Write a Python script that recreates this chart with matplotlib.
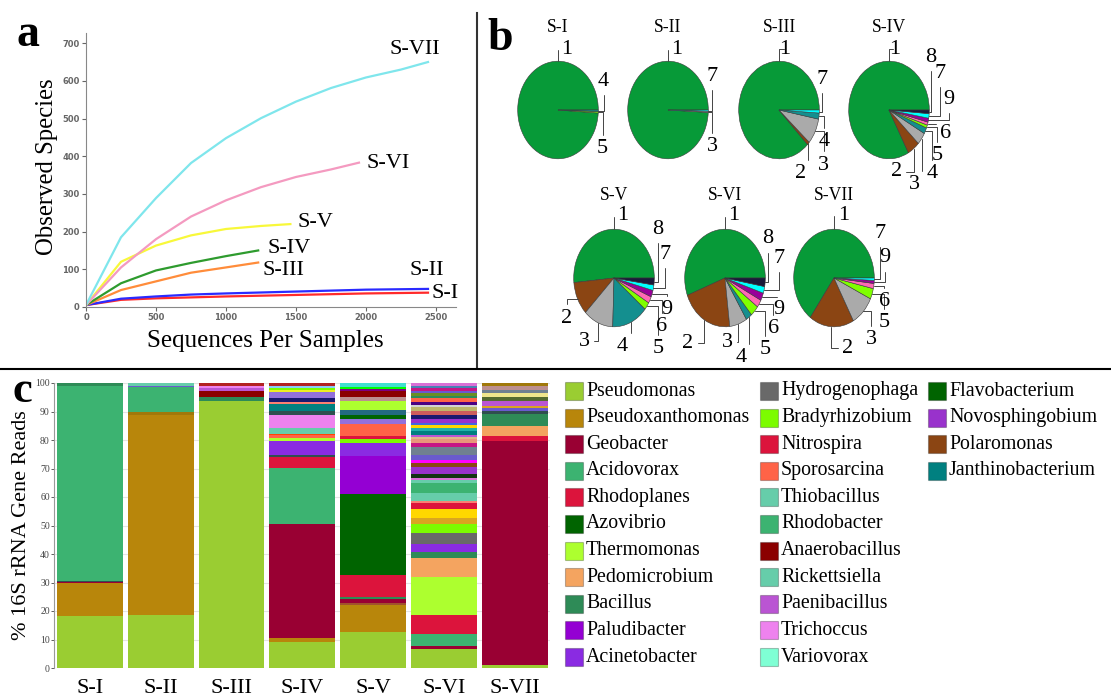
import numpy as np
import matplotlib
matplotlib.use("Agg")
import matplotlib.pyplot as plt
from matplotlib.patches import Rectangle
from matplotlib.lines import Line2D

plt.rcParams['font.family'] = ['Liberation Serif', 'DejaVu Serif']

W, H = 1111, 696


def box(x0, y0, x1, y1):
    # pixel box (top-left origin) -> figure rect
    return [x0 / W, 1 - y1 / H, (x1 - x0) / W, (y1 - y0) / H]


# ---------------- panel a : rarefaction curves ----------------
curve_names = ["S-I", "S-II", "S-III", "S-IV", "S-V", "S-VI", "S-VII"]
depth_s1 = [0, 250, 500, 1000, 1500, 2000, 2443]
obs_s1 = [5, 19, 23, 28, 32, 36, 38]
depth_s2 = [0, 250, 500, 750, 1000, 1500, 2000, 2443]
obs_s2 = [5, 22, 28, 33, 36, 41, 46, 48]
depth_s3 = [0, 250, 500, 750, 1000, 1230]
obs_s3 = [5, 45, 68, 91, 105, 118]
depth_s4 = [0, 250, 500, 750, 1000, 1230]
obs_s4 = [5, 63, 97, 117, 135, 150]
depth_s5 = [0, 250, 500, 750, 1000, 1250, 1460]
obs_s5 = [5, 120, 163, 190, 207, 215, 220]
depth_s6 = [0, 250, 500, 750, 1000, 1250, 1500, 1750, 1950]
obs_s6 = [5, 105, 180, 240, 283, 318, 345, 365, 383]
depth_s7 = [0, 125, 250, 500, 750, 1000, 1250, 1500, 1750, 2000, 2250, 2443]
obs_s7 = [5, 95, 185, 289, 382, 448, 501, 545, 581, 609, 630, 650]

depths = [depth_s1, depth_s2, depth_s3, depth_s4, depth_s5, depth_s6, depth_s7]
observed = [obs_s1, obs_s2, obs_s3, obs_s4, obs_s5, obs_s6, obs_s7]
curve_colors = ["#FF2A2A", "#2A2AFF", "#FF8C3A", "#2E9B2E", "#F8F83A", "#F49AC0", "#7FE6EC"]
# label anchor (data coords)
curve_label_xy = [(2471, 37), (2314, 98), (1264, 98), (1293, 156), (1514, 223), (2007, 382), (2170, 682)]

# ---------------- panel b : pies ----------------
pie_names = ["S-I", "S-II", "S-III", "S-IV", "S-V", "S-VI", "S-VII"]
pie_slices = [
    [1, 5, 4],
    [1, 3, 7],
    [1, 2, 3, 4, 7],
    [1, 2, 3, 4, 5, 6, 9, 7, 8],
    [1, 2, 3, 4, 5, 6, 9, 7, 8],
    [1, 2, 3, 4, 5, 6, 9, 7, 8],
    [1, 2, 3, 5, 6, 9, 7],
]
pie_shares = [
    [99.0, 0.5, 0.5],
    [99.2, 0.4, 0.4],
    [87.5, 1.0, 8.5, 2.0, 1.0],
    [83.0, 5.0, 4.0, 2.0, 1.0, 1.0, 1.3, 1.5, 1.2],
    [51.5, 11.0, 12.0, 14.5, 2.5, 2.2, 2.2, 1.8, 2.3],
    [55.5, 21.0, 7.0, 2.5, 3.5, 2.5, 2.5, 2.2, 2.8],
    [65.0, 18.0, 10.0, 3.5, 1.7, 1.0, 0.8],
]
slice_colors = {1: "#079A38", 2: "#8B4513", 3: "#AAAAAA", 4: "#148F8F", 5: "#7FFF00",
                6: "#FF69B4", 7: "#00FFFF", 8: "#1A1A3A", 9: "#990099"}
pie_label_xy = [
    {1: (0.22, 1.25), 4: (1.13, 0.58), 5: (1.11, -0.79)},
    {1: (0.22, 1.25), 7: (1.10, 0.68), 3: (1.10, -0.75)},
    {1: (0.15, 1.25), 7: (1.07, 0.62), 4: (1.11, -0.65), 3: (1.11, -1.13), 2: (0.53, -1.30)},
    {1: (0.14, 1.25), 8: (1.04, 1.08), 7: (1.26, 0.75), 9: (1.48, 0.22), 6: (1.40, -0.48),
     5: (1.20, -0.93), 4: (1.06, -1.30), 3: (0.64, -1.52), 2: (0.18, -1.27)},
    {1: (0.21, 1.28), 8: (1.09, 0.99), 7: (1.26, 0.48), 9: (1.32, -0.65), 6: (1.18, -0.99),
     5: (1.09, -1.44), 4: (0.21, -1.40), 3: (-0.73, -1.30), 2: (-1.17, -0.82)},
    {1: (0.22, 1.28), 8: (1.06, 0.80), 7: (1.33, 0.40), 9: (1.33, -0.65), 6: (1.20, -1.03),
     5: (1.00, -1.47), 4: (0.40, -1.63), 3: (0.06, -1.32), 2: (-0.92, -1.34)},
    {1: (0.25, 1.28), 7: (1.14, 0.92), 9: (1.27, 0.41), 6: (1.25, -0.48), 5: (1.25, -0.92),
     3: (0.93, -1.27), 2: (0.33, -1.44)},
]
pie_centres = [(558, 110), (668, 110), (779, 110), (889, 110), (614, 278), (725, 278), (834, 278)]

# ---------------- panel c : stacked genera ----------------
bar_names = ["S-I", "S-II", "S-III", "S-IV", "S-V", "S-VI", "S-VII"]
taxa = ["Pseudomonas", "Pseudoxanthomonas", "Geobacter", "Acidovorax", "Rhodoplanes",
        "Azovibrio", "Thermomonas", "Pedomicrobium", "Bacillus", "Paludibacter",
        "Acinetobacter", "Hydrogenophaga", "Bradyrhizobium", "Nitrospira", "Sporosarcina",
        "Thiobacillus", "Rhodobacter", "Anaerobacillus", "Rickettsiella", "Paenibacillus",
        "Trichoccus", "Variovorax", "Flavobacterium", "Novosphingobium", "Polaromonas",
        "Janthinobacterium"]
taxa_colors = ["#9ACD32", "#B8860B", "#990033", "#3CB371", "#DC143C", "#006400", "#ADFF2F",
               "#F4A460", "#2E8B57", "#9400D3", "#8A2BE2", "#696969", "#7CFC00", "#DC143C",
               "#FF6347", "#66CDAA", "#3CB371", "#8B0000", "#66CDAA", "#BA55D3", "#EE82EE",
               "#7FFFD4", "#006400", "#9932CC", "#8B4513", "#008080"]
# minor genera that are not in the legend
other_colors = {
    "o_darkslate": "#2F4F4F", "o_olive": "#A0780A", "o_slateblue": "#6A5ACD",
    "o_firebrick": "#B22222", "o_orangered": "#FF4500", "o_salmon": "#FA8072",
    "o_midnight": "#191970", "o_mpurple": "#9370DB", "o_yellow": "#EEEE22",
    "o_skyblue": "#87CEFA", "o_sienna": "#A0522D", "o_steelteal": "#246A80",
    "o_rosybrown": "#BC8F8F", "o_purple": "#800080", "o_lime": "#00FF00",
    "o_turquoise": "#40E0D0", "o_goldenrod": "#DAA520", "o_gold": "#FFD700",
    "o_orchid": "#DA70D6", "o_black": "#123312", "o_magenta": "#FF00FF",
    "o_slategray": "#708090", "o_mvr": "#C71585", "o_dsalmon": "#E9967A",
    "o_burlywood": "#DEB887", "o_lseagreen": "#20B2AA", "o_royalblue": "#4169E1",
    "o_dorchid": "#9932CC", "o_indianred": "#CD5C5C", "o_dkhaki": "#BDB76B",
    "o_lightgray": "#D3D3D3", "o_indigo": "#4B0082", "o_tomato": "#FF6347",
    "o_seagreen": "#2E8B57", "o_olivedrab": "#6B8E23", "o_steelblue": "#4682B4",
    "o_darkolive": "#556B2F", "o_khaki": "#F0E68C",
}

genera_s1 = ["Pseudomonas", "Pseudoxanthomonas", "Geobacter", "o_darkslate", "Acidovorax", "Bacillus"]
reads_s1 = [18.3, 11.4, 0.5, 0.3, 68.5, 1.0]
genera_s2 = ["Pseudomonas", "Pseudoxanthomonas", "o_olive", "Acidovorax", "o_slateblue", "Thiobacillus"]
reads_s2 = [18.6, 70.3, 0.9, 8.8, 0.4, 1.0]
genera_s3 = ["Pseudomonas", "Bacillus", "Anaerobacillus", "Paenibacillus", "Trichoccus", "o_firebrick"]
reads_s3 = [93.8, 1.2, 2.3, 0.9, 0.6, 1.2]
genera_s4 = ["Pseudomonas", "Pseudoxanthomonas", "Geobacter", "Acidovorax", "Rhodoplanes",
             "o_darkslate", "Acinetobacter", "Thermomonas", "Sporosarcina", "o_orangered",
             "Thiobacillus", "Trichoccus", "o_darkslate", "Janthinobacterium", "o_salmon",
             "o_midnight", "o_mpurple", "o_yellow", "Bradyrhizobium", "o_skyblue", "o_firebrick"]
reads_s4 = [9.1, 1.5, 39.8, 19.7, 4.1, 0.7, 4.8, 0.9, 1.0, 0.6, 2.0, 4.7, 1.3, 2.6, 0.6,
            1.5, 1.8, 0.7, 0.7, 0.9, 1.0]
genera_s5 = ["Pseudomonas", "Pseudoxanthomonas", "o_sienna", "Geobacter", "Bacillus",
             "Rhodoplanes", "Azovibrio", "Paludibacter", "Acinetobacter", "Bradyrhizobium",
             "Nitrospira", "Sporosarcina", "o_mpurple", "Flavobacterium", "o_steelteal",
             "Thermomonas", "o_rosybrown", "Anaerobacillus", "o_purple", "o_lime", "o_turquoise"]
reads_s5 = [12.6, 9.4, 0.9, 1.2, 0.8, 7.6, 28.7, 13.2, 4.7, 1.4, 0.9, 4.3, 1.5, 1.4, 1.8,
            3.2, 1.5, 2.0, 0.9, 0.6, 1.4]
genera_s6 = ["Pseudomonas", "Geobacter", "Acidovorax", "Rhodoplanes", "Thermomonas",
             "Pedomicrobium", "Bacillus", "Acinetobacter", "Hydrogenophaga", "Bradyrhizobium",
             "o_goldenrod", "o_gold", "Nitrospira", "o_salmon", "Thiobacillus", "Rhodobacter",
             "Rickettsiella", "o_orchid", "o_black", "Novosphingobium", "Polaromonas",
             "o_magenta", "o_slateblue", "o_slategray", "o_mvr", "o_dsalmon", "o_burlywood",
             "Paenibacillus", "Janthinobacterium", "o_lseagreen", "o_gold", "o_royalblue",
             "o_dorchid", "o_midnight", "o_indianred", "o_dkhaki", "o_lightgray", "o_indigo",
             "o_tomato", "o_seagreen", "o_olivedrab", "o_slateblue", "o_mvr", "o_steelblue",
             "o_orchid"]
reads_s6 = [6.8, 0.9, 4.3, 6.7, 13.4, 6.4, 2.1, 2.8, 3.9, 3.2, 2.3, 2.9, 2.1, 0.8, 2.7, 3.5,
            1.2, 0.8, 1.3, 2.6, 1.2, 1.2, 1.8, 2.6, 1.5, 1.5, 0.7, 0.7, 1.2, 1.2, 0.8, 0.9,
            1.2, 1.5, 1.6, 1.2, 0.9, 0.9, 1.4, 0.9, 0.8, 0.8, 0.9, 0.9, 1.0]
genera_s7 = ["Pseudomonas", "Geobacter", "Rhodoplanes", "Pedomicrobium", "Bacillus",
             "o_darkslate", "o_slateblue", "o_goldenrod", "Paenibacillus", "o_darkolive",
             "o_khaki", "o_slategray", "o_rosybrown", "o_olive"]
reads_s7 = [1.2, 78.6, 1.5, 3.5, 4.3, 1.2, 0.9, 0.9, 1.6, 1.5, 1.2, 1.2, 1.2, 1.2]

bar_genera = [genera_s1, genera_s2, genera_s3, genera_s4, genera_s5, genera_s6, genera_s7]
bar_reads = [reads_s1, reads_s2, reads_s3, reads_s4, reads_s5, reads_s6, reads_s7]

all_colors = dict(zip(taxa, taxa_colors))
all_colors.update(other_colors)

fig = plt.figure(figsize=(W / 100, H / 100), dpi=100)

# ---- a ----
axa = fig.add_axes(box(86, 33, 456, 307))
for d, o, c in zip(depths, observed, curve_colors):
    axa.plot(d, o, color=c, lw=1.6)
for (lx, ly), n in zip(curve_label_xy, curve_names):
    axa.text(lx, ly, n, fontsize=16, ha='left', va='center')
axa.set_xlim(0, 2643)
axa.set_ylim(0, 727)
axa.set_xticks([0, 500, 1000, 1500, 2000, 2500])
axa.set_yticks(range(0, 701, 100))
for s in ['top', 'right']:
    axa.spines[s].set_visible(False)
for s in ['left', 'bottom']:
    axa.spines[s].set_color('#888888')
axa.tick_params(labelsize=6, colors='#666666', length=3, width=0.8, pad=1.5)
for t in axa.get_xticklabels() + axa.get_yticklabels():
    t.set_fontfamily('DejaVu Sans')
    t.set_fontweight('bold')
fig.text(265 / W, 1 - 341 / H, "Sequences Per Samples", fontsize=18, ha='center', va='center')
fig.text(47 / W, 1 - 167 / H, "Observed Species", fontsize=17.8, ha='center', va='center', rotation=90)
fig.text(16 / W, 1 - 46 / H, "a", fontsize=33, fontweight='bold', va='baseline')

# ---- b ----
fig.text(487 / W, 1 - 50 / H, "b", fontsize=33, fontweight='bold', va='baseline')
sx, sy = 40.3, 48.8
for k, name in enumerate(pie_names):
    cx, cy = pie_centres[k]
    ax = fig.add_axes(box(cx - 2 * sx, cy - 2 * sy, cx + 2 * sx, cy + 2 * sy))
    ax.patch.set_alpha(0)
    cols = [slice_colors[s] for s in pie_slices[k]]
    wedges, _ = ax.pie(pie_shares[k], colors=cols, startangle=0, counterclock=True,
                       wedgeprops=dict(edgecolor='#3a3a3a', linewidth=0.4))
    ax.set_aspect('auto')
    ax.set_xlim(-2, 2)
    ax.set_ylim(-2, 2)
    ax.axis('off')
    ax.text(0, 1.7, name, ha='center', va='center', fontsize=12.7)
    for w, s in zip(wedges, pie_slices[k]):
        tx, ty = pie_label_xy[k][s]
        th = 90 if s == 1 else (w.theta1 + w.theta2) / 2
        px, py = np.cos(np.radians(th)), np.sin(np.radians(th))
        if s == 1 or (ty < -1.15 and tx < 0.9):
            cs = 'angle,angleA=0,angleB=90,rad=0'
        else:
            cs = 'angle,angleA=90,angleB=0,rad=0'
        ax.annotate(str(s), xy=(px, py), xytext=(tx, ty), ha='center', va='center',
                    fontsize=16, annotation_clip=False,
                    arrowprops=dict(arrowstyle='-', connectionstyle=cs, color='#444444',
                                    lw=0.7, shrinkA=1, shrinkB=0))

# dividers
fig.add_artist(Line2D([477 / W, 477 / W], [1 - 13 / H, 1 - 368 / H], color='#333333', lw=1.5))
fig.add_artist(Line2D([0, 1], [1 - 369 / H, 1 - 369 / H], color='black', lw=1.5))

# ---- c ----
axc = fig.add_axes(box(54, 383, 550, 668))
for i, n in enumerate(bar_names):
    bottom = 0
    for g, v in zip(bar_genera[i], bar_reads[i]):
        axc.bar(i, v, bottom=bottom, width=0.93, color=all_colors[g], linewidth=0)
        bottom += v
axc.set_xlim(-0.507, 6.5)
axc.set_ylim(0, 100)
axc.set_yticks(range(0, 101, 10))
axc.set_xticks(range(len(bar_names)))
axc.set_xticklabels(bar_names, fontsize=16)
axc.yaxis.grid(True, color='#e4e4e4', lw=0.8)
axc.set_axisbelow(True)
for s in ['top', 'right', 'bottom']:
    axc.spines[s].set_visible(False)
axc.spines['left'].set_color('#999999')
axc.tick_params(axis='y', labelsize=7, colors='#444444', length=2, width=0.6, pad=1)
axc.tick_params(axis='x', length=0, pad=8)
fig.text(22 / W, 1 - 525 / H, "% 16S rRNA Gene Reads", fontsize=16, ha='center', va='center', rotation=90)
fig.text(12 / W, 1 - 402 / H, "c", fontsize=32, fontweight='bold', va='baseline')

# legend drawn by hand: 11 rows per column
col_x = [565, 760, 928]
for j, (t, c) in enumerate(zip(taxa, taxa_colors)):
    x0 = col_x[j // 11]
    yc = 391 + (j % 11) * 26.6
    fig.add_artist(Rectangle((x0 / W, 1 - (yc + 9) / H), 18 / W, 18 / H, transform=fig.transFigure,
                             facecolor=c, edgecolor=(0, 0, 0, 0.25), lw=0.8))
    fig.text((x0 + 21) / W, 1 - yc / H, t, fontsize=14.3, ha='left', va='center')

fig.savefig("out.png", dpi=100)
